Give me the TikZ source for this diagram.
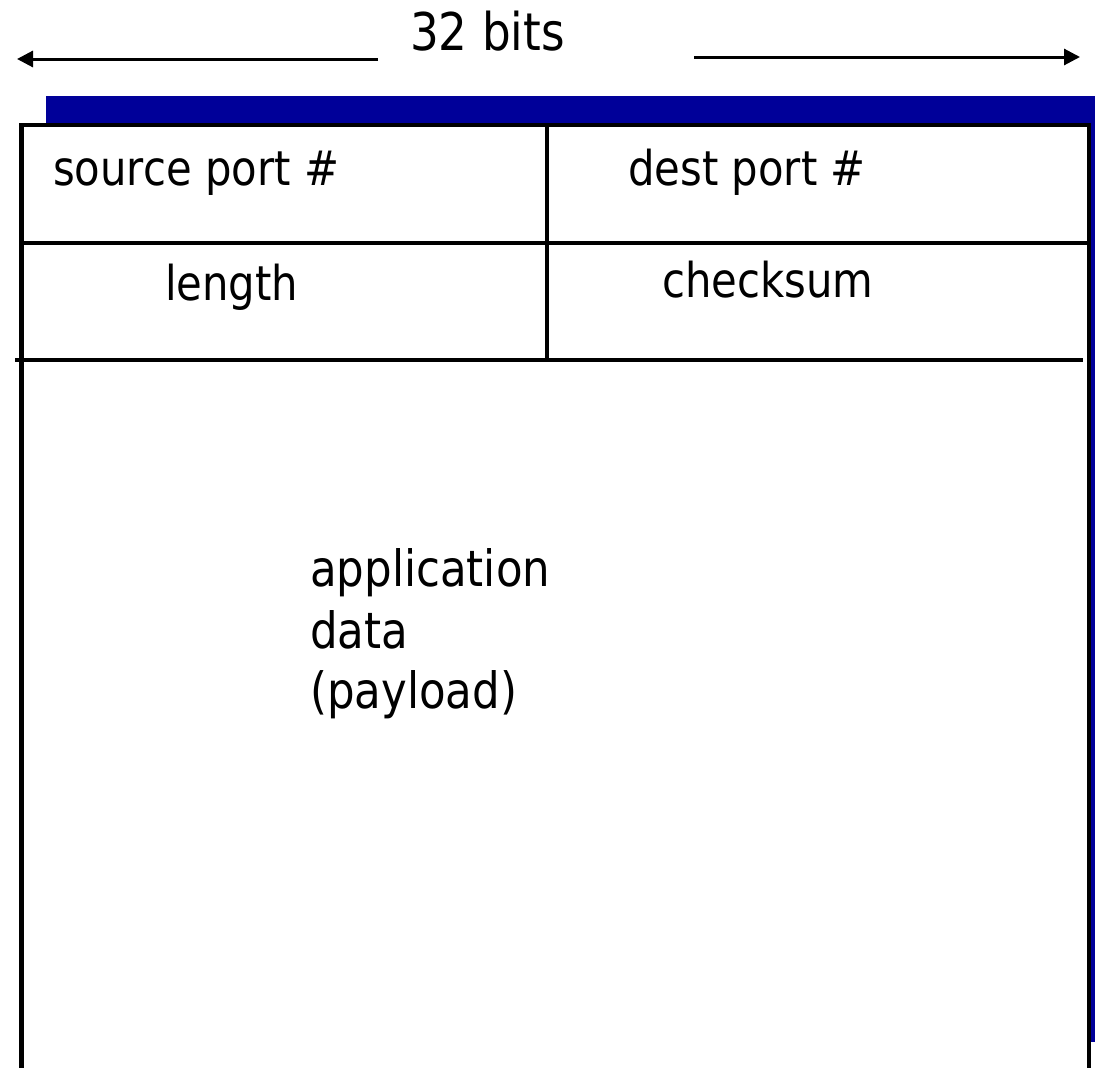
\documentclass[tikz,border=0pt]{standalone}
\usepackage{fontspec}
\setmainfont{DejaVu Sans}[FakeStretch=0.87]
\usetikzlibrary{arrows.meta}
\definecolor{hdrblue}{RGB}{0,0,153}
\begin{document}
\begin{tikzpicture}[x=1pt,y=-1pt,
  lbl/.style={anchor=base west, inner sep=0pt, font=\fontsize{48}{62}\selectfont},
  biglbl/.style={lbl, font=\fontsize{52}{62}\selectfont},
  applbl/.style={lbl, font=\fontsize{50}{62}\selectfont},
  border/.style={line width=4.5pt, black},
  dimarrow/.style={line width=3pt, -{Triangle[length=16pt,width=16pt]}}]
\useasboundingbox (0,0) rectangle (1095,1068);
% blue shadow
\fill[hdrblue] (46,96) rectangle (1095,1042);
% white segment box
\fill[white] (21.5,125) rectangle (1089,1090);
\draw[border] (21.5,1090) -- (21.5,125) -- (1089,125) -- (1089,1090);
\draw[border] (21.5,243) -- (1089,243);
\draw[border] (15,360) -- (1083,360);
\draw[border] (547,125) -- (547,360);
% 32 bits dimension
\node[biglbl] (bits) at (410,50) {32 bits};
\coordinate (la) at (378,59);
\coordinate (lb) at (17,59);
\coordinate (ra) at (694,57);
\coordinate (rb) at (1080,57);
\draw[dimarrow] (la) -- (lb);
\draw[dimarrow] (ra) -- (rb);
% field labels
\node[lbl] (src) at (53,185) {source port \#};
\node[lbl] (dst) at (628,185) {dest port \#};
\node[lbl] (len) at (165,300) {length};
\node[lbl] (chk) at (662,297) {checksum};
\node[applbl] (app1) at (310,586) {application};
\node[applbl] (app2) at (310,648) {data};
\node[applbl] (app3) at (310,708) {(payload)};
\end{tikzpicture}
\end{document}
